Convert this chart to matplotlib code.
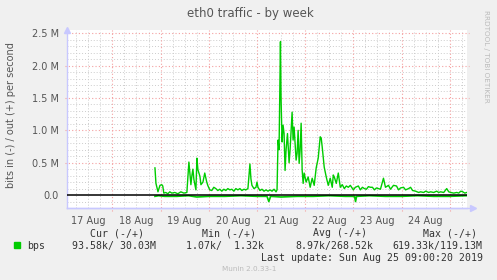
import matplotlib
matplotlib.use("Agg")
import matplotlib.pyplot as plt
import numpy as np

# ---------------- data (hours since 2019-08-16 00:00, values in M bit/s) -------------
out_hours = [69.2, 69.7, 70.7, 71.7, 72.6, 73.1, 73.6, 74.6, 75.6, 76.6, 77.6, 79.1, 80.6,
             82.1, 83.6, 85.1, 86.1, 87.1, 87.6, 88.1, 88.6, 89.6, 90.1, 90.6, 91.6, 92.1,
             93.1, 94.0, 95.0, 95.5, 96.5, 97.5, 98.5, 99.5, 100.5, 101.5, 102.5, 103.5,
             104.5, 105.5, 106.5, 107.5, 108.5, 109.5, 110.5, 111.5, 112.5, 113.5, 114.5,
             115.5, 116.5, 117.0, 117.5, 118.5, 119.5, 120.0, 120.5, 121.5, 122.5, 123.5,
             124.5, 125.5, 126.5, 127.5, 128.5, 129.5, 130.0, 130.5, 131.0, 131.7, 132.0,
             132.5, 133.0, 133.5, 134.0, 134.5, 135.2, 136.0, 136.5, 137.5, 138.0, 138.5,
             139.5, 140.0, 140.5, 141.0, 141.5, 142.0, 142.5, 143.0, 143.5, 144.5, 145.5,
             146.5, 147.5, 148.5, 149.5, 150.5, 151.5, 152.0, 152.5, 153.5, 154.5, 155.5,
             156.5, 157.5, 158.0, 158.5, 159.5, 160.5, 161.5, 162.5, 163.5, 164.5, 165.5,
             166.5, 168.0, 169.0, 170.5, 171.5, 172.5, 173.5, 174.5, 175.5, 176.5, 177.5,
             178.5, 179.5, 180.5, 181.5, 183.0, 184.0, 185.5, 186.5, 188.0, 189.5, 190.5,
             191.5, 193.0, 194.0, 195.5, 196.5, 197.5, 199.0, 200.5, 201.5, 203.0, 204.0,
             205.5, 206.5, 208.0, 209.5, 210.5, 211.5, 213.0, 214.5, 215.5, 216.5, 218.0,
             219.5, 220.5, 221.5, 222.5, 223.5, 224.5]
out_values = [0.42, 0.18, 0.05, 0.15, 0.16, 0.14, 0.03, 0.04, 0.02, 0.05, 0.03, 0.04, 0.02,
              0.05, 0.03, 0.04, 0.51, 0.16, 0.30, 0.40, 0.24, 0.08, 0.57, 0.39, 0.29, 0.16,
              0.20, 0.34, 0.20, 0.15, 0.08, 0.07, 0.12, 0.10, 0.07, 0.09, 0.06, 0.09,
              0.07, 0.10, 0.08, 0.09, 0.06, 0.10, 0.08, 0.10, 0.07, 0.09, 0.08,
              0.10, 0.48, 0.25, 0.15, 0.10, 0.12, 0.20, 0.12, 0.07, 0.09, 0.06,
              0.08, 0.06, 0.08, 0.06, 0.09, 0.05, 0.08, 0.85, 0.70, 2.37, 1.50,
              0.82, 1.08, 0.95, 0.38, 0.70, 0.95, 0.50, 0.70, 1.28, 0.85, 1.05,
              0.54, 0.65, 1.00, 0.49, 0.70, 1.11, 0.39, 0.18, 0.34, 0.20, 0.28,
              0.12, 0.26, 0.15, 0.42, 0.57, 0.90, 0.88, 0.74, 0.43, 0.28, 0.15,
              0.26, 0.12, 0.31, 0.28, 0.18, 0.34, 0.12, 0.16, 0.10, 0.14, 0.12,
              0.15, 0.08, 0.12, 0.14, 0.08, 0.12, 0.10, 0.09, 0.13, 0.12, 0.12,
              0.08, 0.11, 0.10, 0.09, 0.26, 0.12, 0.15, 0.09, 0.15, 0.14, 0.08,
              0.11, 0.12, 0.08, 0.10, 0.12, 0.07, 0.06, 0.04, 0.05, 0.04, 0.06,
              0.04, 0.05, 0.04, 0.06, 0.04, 0.05, 0.04, 0.10, 0.05, 0.04, 0.03,
              0.04, 0.03, 0.06, 0.05, 0.03, 0.04]

in_hours = [69.2, 71.0, 74.0, 80.0, 86.0, 90.0, 96.0, 104.0, 112.0, 120.0, 125.0, 125.9,
            126.8, 132.0, 140.0, 148.0, 156.0, 164.0, 168.6, 169.1, 169.6, 176.0, 184.0,
            192.0, 200.0, 208.0, 216.0, 224.5]
in_values = [-0.02, -0.01, -0.02, -0.02, -0.01, -0.03, -0.02, -0.02, -0.01, -0.02, -0.02, -0.10,
             -0.02, -0.03, -0.02, -0.02, -0.01, -0.02, -0.02, -0.10, -0.02, -0.01, -0.02,
             -0.02, -0.01, -0.02, -0.02, -0.01]

day_tick_labels = ["17 Aug", "18 Aug", "19 Aug", "20 Aug", "21 Aug", "22 Aug", "23 Aug", "24 Aug"]
y_ticks = [0.0, 0.5, 1.0, 1.5, 2.0, 2.5]
y_tick_labels = ["0.0", "0.5 M", "1.0 M", "1.5 M", "2.0 M", "2.5 M"]

legend_headers = ["Cur (-/+)", "Min (-/+)", "Avg (-/+)", "Max (-/+)"]
legend_values = ["93.58k/ 30.03M", "1.07k/  1.32k", "8.97k/268.52k", "619.33k/119.13M"]

# ---------------- figure ----------------
W, H = 497, 280
fig = plt.figure(figsize=(W / 100, H / 100), dpi=100, facecolor="#F0F0F0")

L, R, T, B = 67, 467, 30, 208
ax = fig.add_axes([L / W, 1 - B / H, (R - L) / W, (B - T) / H])
ax.set_facecolor("white")

x_lo, x_hi = 25.4, 224.6
ax.set_xlim(x_lo, x_hi)
ax.set_ylim(-0.2, 2.55)

# grid
minor_col = "#CCCCCC"
major_col = "#F4A0A0"
for h in np.arange(24, 232, 6):
    if x_lo < h < x_hi and h % 24 != 0:
        ax.axvline(h, color=minor_col, lw=0.7, ls=(0, (1, 2)), zorder=1)
for yv in np.arange(-0.1, 2.55, 0.1):
    if abs(round(yv * 10) % 5) != 0:
        ax.axhline(yv, color=minor_col, lw=0.7, ls=(0, (1, 2)), zorder=1)
for d in range(1, 10):
    h = d * 24
    if x_lo < h < x_hi:
        ax.plot([h, h], [-0.25, 2.55], color=major_col, lw=0.8, ls=(0, (1, 2)),
                zorder=1.5, clip_on=False)
for yv in y_ticks[1:]:
    ax.plot([x_lo - 1, x_hi + 1], [yv, yv], color=major_col, lw=0.8, ls=(0, (1, 2)),
            zorder=1.5, clip_on=False)

# data
ax.plot(out_hours, out_values, color="#00CC00", lw=1.0, zorder=3)
ax.plot(in_hours, in_values, color="#00CC00", lw=1.2, zorder=3)
ax.axhline(0, color="black", lw=1.1, zorder=4)

# axes styling
for s in ["top", "right"]:
    ax.spines[s].set_visible(False)
ax.spines["left"].set_color("#C8C8FF")
ax.spines["bottom"].set_color("#C8C8FF")
ax.spines["left"].set_linewidth(1.0)
ax.spines["bottom"].set_linewidth(1.0)
ax.plot([0], [1.0], marker="^", ms=5, color="#C8C8FF", transform=ax.transAxes,
        clip_on=False, zorder=5)
ax.plot([1.015], [0.0], marker=">", ms=5, color="#C8C8FF", transform=ax.transAxes,
        clip_on=False, zorder=5)
ax.plot([0, 1.015], [0, 0], color="#C8C8FF", lw=1.0, transform=ax.transAxes, clip_on=False)

ax.set_xticks([24 * (i + 1) + 12 for i in range(len(day_tick_labels))])
ax.set_xticklabels(day_tick_labels)
ax.set_yticks(y_ticks)
ax.set_yticklabels(y_tick_labels)
ax.tick_params(axis="both", length=0, labelsize=7, labelcolor="#555555")
ax.tick_params(axis="x", pad=6)
ax.tick_params(axis="y", pad=6)

# titles / labels
fig.text(250 / W, 1 - 14 / H, "eth0 traffic - by week", ha="center", va="center",
         fontsize=8.5, color="#555555")
fig.text(11 / W, 1 - 115 / H, "bits in (-) / out (+) per second", rotation=90,
         ha="center", va="center", fontsize=7, color="#555555")
fig.text(486 / W, 1 - 56 / H, "RRDTOOL / TOBI OETIKER", rotation=270, ha="center",
         va="center", fontsize=5.2, color="#BBBBBB")

# legend
mono = "DejaVu Sans Mono"
fig.patches.append(plt.Rectangle((14 / W, 1 - 248 / H), 6 / W, 6 / H, color="#00CC00",
                                 transform=fig.transFigure, figure=fig))
fig.text(27 / W, 1 - 246 / H, "bps", ha="left", va="center", fontsize=7.1, family=mono,
         color="#333333")
header_x = [90, 201.7, 313, 423]
value_x = [72, 186, 295, 392]
for hx, txt in zip(header_x, legend_headers):
    fig.text(hx / W, 1 - 233 / H, txt, ha="left", va="center", fontsize=7.1, family=mono,
             color="#333333")
for vx, txt in zip(value_x, legend_values):
    fig.text(vx / W, 1 - 246 / H, txt, ha="left", va="center", fontsize=7.1, family=mono,
             color="#333333")
fig.text(483 / W, 1 - 258 / H, "Last update: Sun Aug 25 09:00:20 2019", ha="right",
         va="center", fontsize=7.1, family=mono, color="#333333")
fig.text(249 / W, 1 - 269 / H, "Munin 2.0.33-1", ha="center", va="center", fontsize=5.2,
         color="#BBBBBB")

fig.savefig("out.png", dpi=100, facecolor=fig.get_facecolor())
